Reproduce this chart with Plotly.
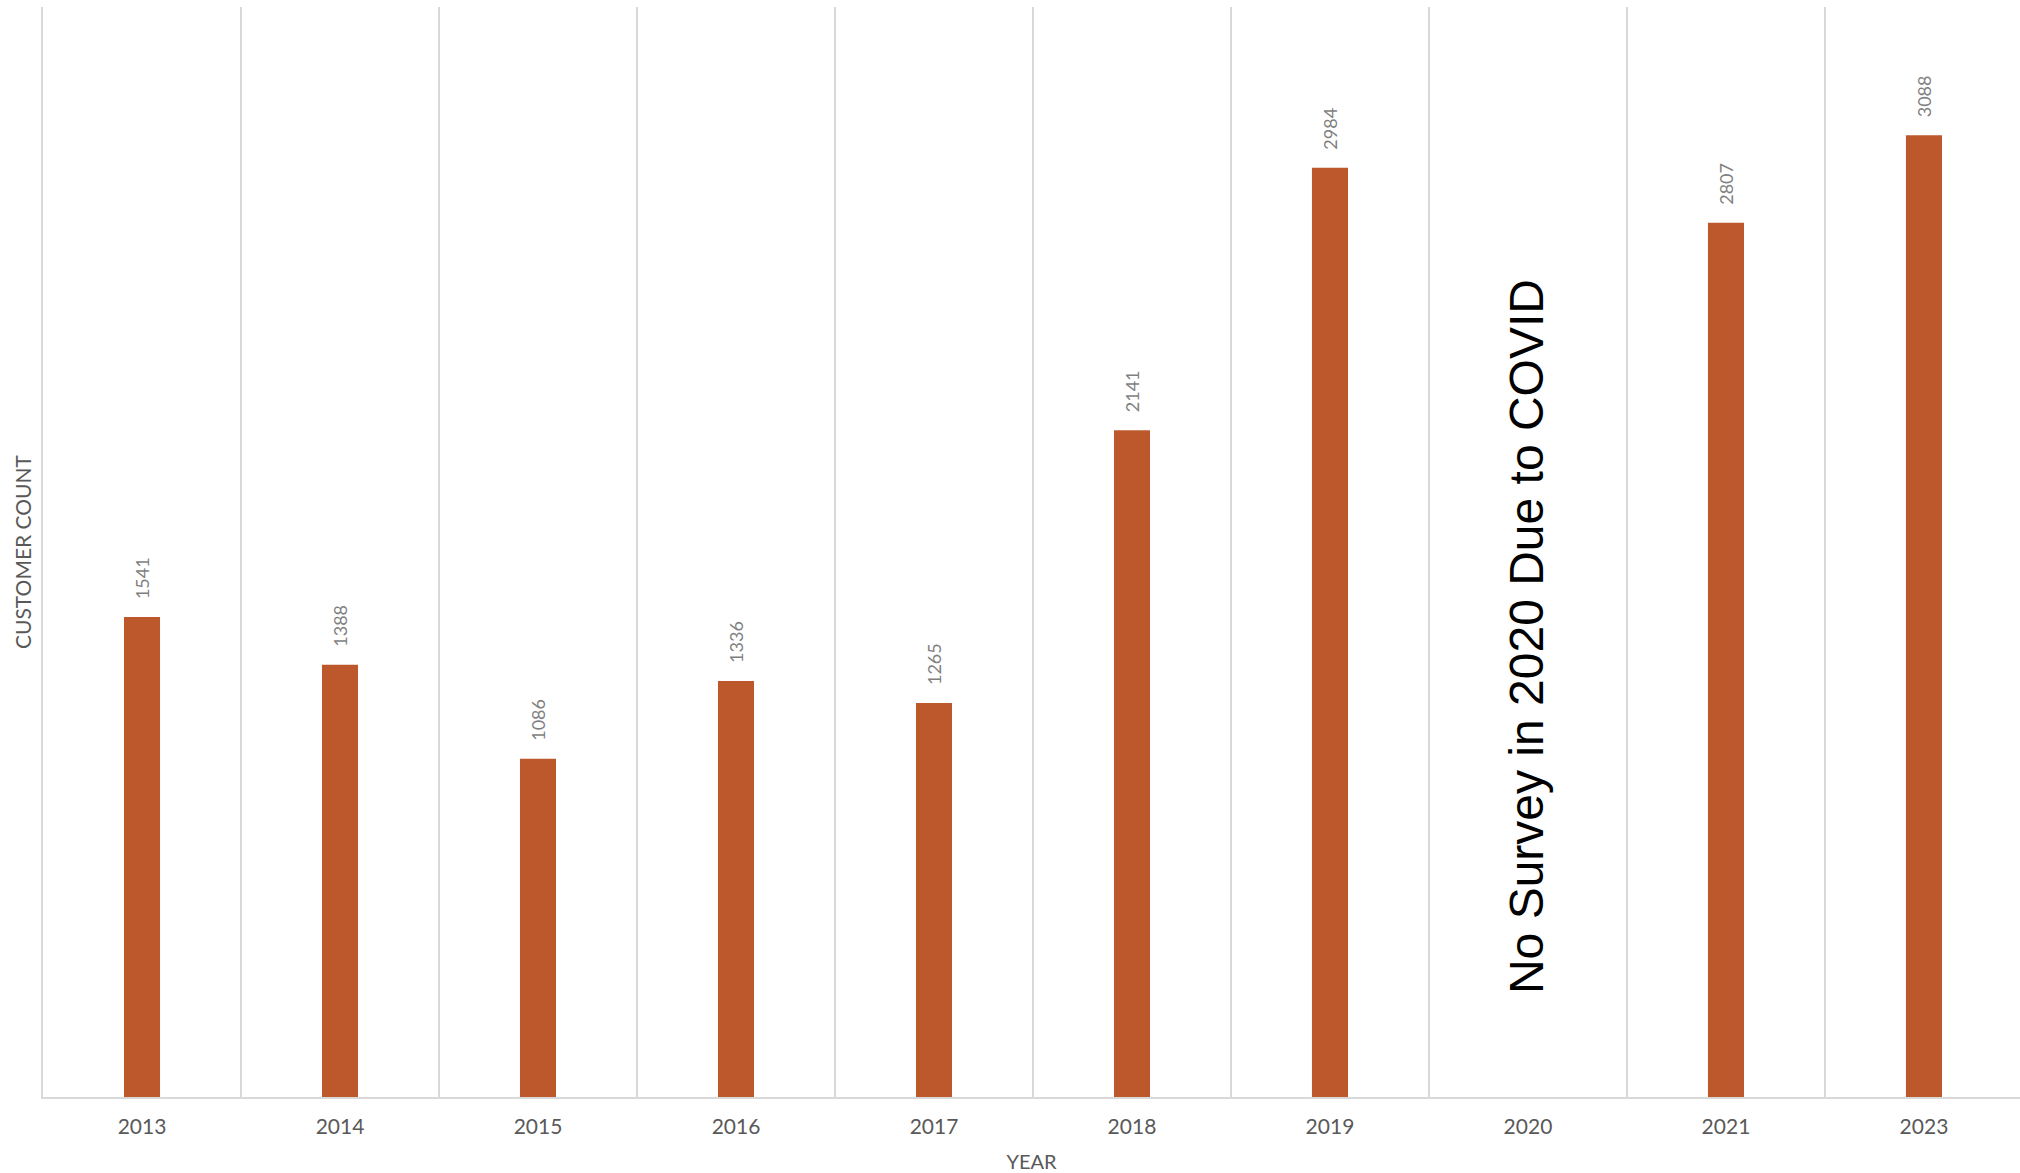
import plotly.graph_objects as go

years = ["2013", "2014", "2015", "2016", "2017", "2018", "2019", "2020", "2021", "2023"]
counts = [1541, 1388, 1086, 1336, 1265, 2141, 2984, None, 2807, 3088]
note_text = "No Survey in 2020 Due to COVID"
note_year = "2020"
note_y = 1480

BAR = "#BD582C"
GRID = "#D9D9D9"

fig = go.Figure()
fig.add_trace(go.Bar(x=years, y=counts, marker=dict(color=BAR, line=dict(width=0)),
                     hoverinfo="x+y"))

for i, (yr, c) in enumerate(zip(years, counts)):
    if c is None:
        continue
    fig.add_annotation(x=i, y=c, text=str(c), textangle=-90, showarrow=False,
                       xanchor="center", yanchor="bottom", yshift=16,
                       font=dict(family="Lato", size=18, color="#7F7F7F"))

fig.add_annotation(x=years.index(note_year), y=note_y, text=note_text, textangle=-90,
                   showarrow=False, xanchor="center", yanchor="middle", xshift=-2,
                   font=dict(family="Liberation Sans, Arial", size=48, color="#000000"))

fig.update_layout(
    width=2020, height=1173,
    margin=dict(l=43, r=0, t=7, b=76),
    paper_bgcolor="white", plot_bgcolor="white",
    bargap=0.818,
    showlegend=False,
    font=dict(family="Lato", color="#595959"),
)
fig.update_xaxes(
    type="category", range=[-0.5, 9.485],
    tickson="boundaries", showgrid=True, gridcolor=GRID, gridwidth=1.5,
    showline=True, linecolor=GRID, linewidth=2,
    ticks="", ticklen=0, ticklabelstandoff=10,
    tickfont=dict(family="Lato", size=21, color="#595959"),
    title=dict(text="YEAR", font=dict(family="Lato", size=20, color="#595959"), standoff=19),
    automargin=False, zeroline=False,
)
fig.update_yaxes(
    range=[0, 3500], showgrid=False, showticklabels=False, zeroline=False,
    showline=True, linecolor=GRID, linewidth=1.5, ticks="",
    title=dict(text="CUSTOMER COUNT", font=dict(family="Lato", size=21, color="#595959"), standoff=4),
    automargin=False,
)

fig.write_html("out.html")
